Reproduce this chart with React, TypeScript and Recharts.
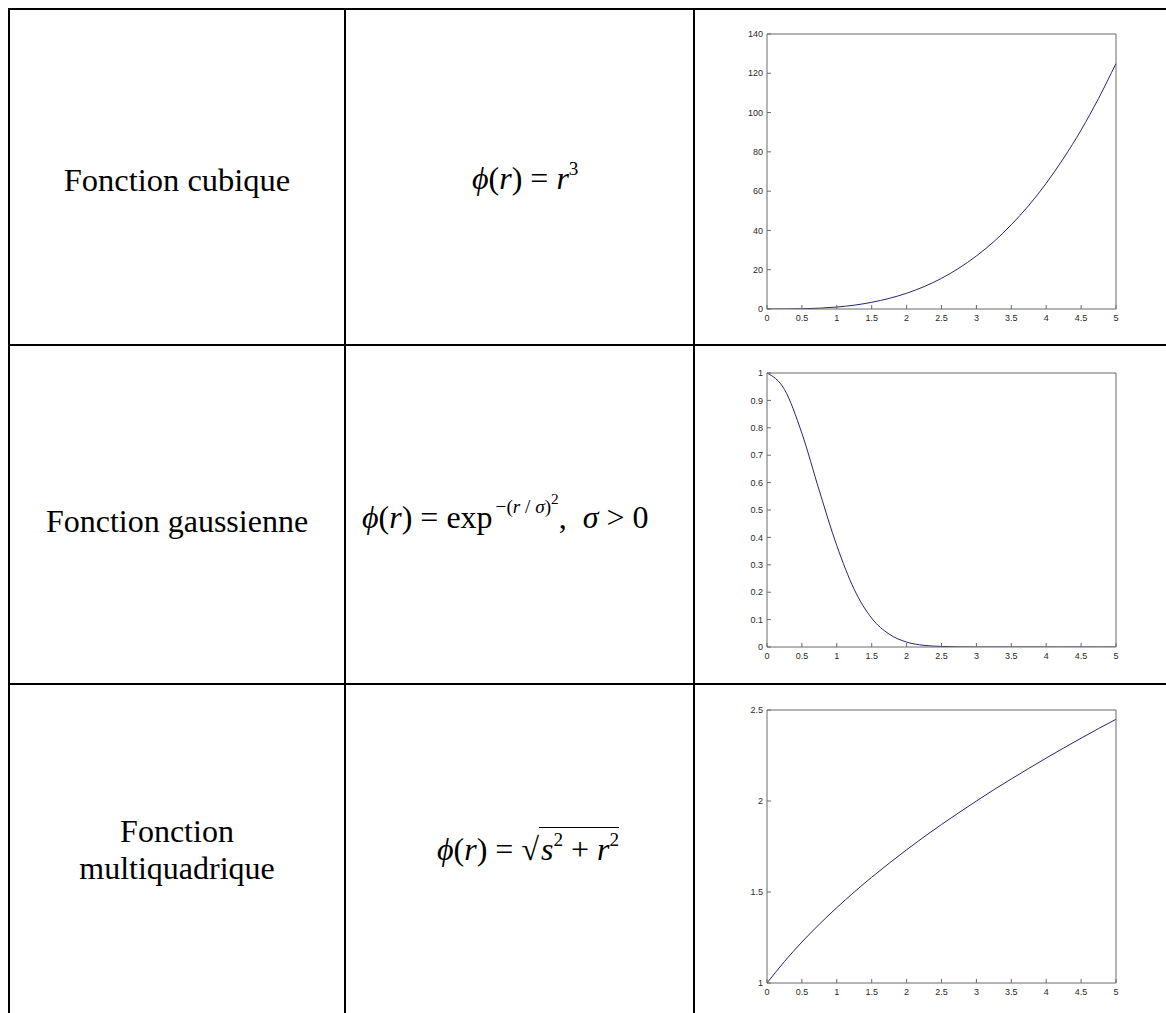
import React from "react";
import { Line, LineChart, XAxis, YAxis } from "recharts";

// sample points along r (0..5)
const rValues = [0, 0.25, 0.5, 0.75, 1, 1.25, 1.5, 1.75, 2, 2.25, 2.5, 2.75, 3, 3.25, 3.5, 3.75, 4, 4.25, 4.5, 4.75, 5];

// values
const cubicValues = [0, 0.02, 0.13, 0.42, 1, 1.95, 3.4, 5.4, 8, 11.4, 15.6, 20.8, 27, 34.3, 42.9, 52.7, 64, 76.8, 91.1, 107.2, 125];
const gaussValues = [1, 0.94, 0.78, 0.57, 0.37, 0.21, 0.105, 0.047, 0.018, 0.006, 0.002, 0.0005, 0, 0, 0, 0, 0, 0, 0, 0, 0];
const multiquadValues = [1, 1.118, 1.225, 1.323, 1.414, 1.5, 1.581, 1.658, 1.732, 1.803, 1.871, 1.936, 2, 2.062, 2.121, 2.179, 2.236, 2.291, 2.345, 2.398, 2.449];

const xTicks = [0, 0.5, 1, 1.5, 2, 2.5, 3, 3.5, 4, 4.5, 5];
const cubicTicks = [0, 20, 40, 60, 80, 100, 120, 140];
const gaussTicks = [0, 0.1, 0.2, 0.3, 0.4, 0.5, 0.6, 0.7, 0.8, 0.9, 1];
const multiquadTicks = [1, 1.5, 2, 2.5];

const rowLabels = ["Fonction cubique", "Fonction gaussienne", "Fonction multiquadrique"];

const axisColor = "#6a6a6a";
const lineColor = "#26266e";
const tickFont = { fontSize: 9, fill: "#2a2a2a", fontFamily: "'Liberation Sans', Arial, sans-serif" };
const serif = "'Liberation Serif', 'Times New Roman', serif";

function Plot({ top, plotH, values, ticks }: { top: number; plotH: number; values: number[]; ticks: number[] }) {
  const data = rValues.map((r, i) => ({ r, v: values[i] }));
  const domain = [ticks[0], ticks[ticks.length - 1]];
  return (
    <div style={{ position: "absolute", left: 695, top: top - 20 }}>
      <LineChart width={471} height={plotH + 50} data={data} margin={{ top: 10, right: 40, bottom: 0, left: 32 }}>
        <XAxis
          xAxisId="b"
          dataKey="r"
          type="number"
          domain={[0, 5]}
          ticks={xTicks}
          height={30}
          stroke={axisColor}
          tickSize={-4}
          tickMargin={10}
          tick={tickFont}
          allowDataOverflow
        />
        <XAxis
          xAxisId="t"
          orientation="top"
          dataKey="r"
          type="number"
          domain={[0, 5]}
          ticks={xTicks}
          height={10}
          stroke={axisColor}
          tickSize={-4}
          tick={false}
          allowDataOverflow
        />
        <YAxis
          yAxisId="l"
          type="number"
          domain={domain}
          ticks={ticks}
          width={40}
          stroke={axisColor}
          tickSize={-4}
          tickMargin={8}
          tick={tickFont}
          allowDataOverflow
        />
        <YAxis
          yAxisId="r"
          orientation="right"
          type="number"
          domain={domain}
          ticks={ticks}
          width={10}
          stroke={axisColor}
          tickSize={-4}
          tick={false}
          allowDataOverflow
        />
        <Line
          xAxisId="b"
          yAxisId="l"
          type="monotone"
          dataKey="v"
          stroke={lineColor}
          strokeWidth={1}
          dot={false}
          isAnimationActive={false}
        />
      </LineChart>
    </div>
  );
}

const rule = (left: number, top: number, width: number, height: number) => (
  <div style={{ position: "absolute", left, top, width, height, background: "#000" }} />
);

const sup: React.CSSProperties = { fontSize: "0.6em", verticalAlign: "0.75em", lineHeight: 0 };
const op: React.CSSProperties = { margin: "0 8px" };

export default function App() {
  return (
    <div style={{ position: "fixed", left: 0, top: 0, width: 1166, height: 1013, overflow: "hidden", background: "#fff", fontFamily: serif, color: "#000" }}>
      {rule(8, 8, 1158, 2)}
      {rule(8, 8, 2, 1005)}
      {rule(344, 8, 2, 1005)}
      {rule(693, 8, 2, 1005)}
      {rule(8, 344, 1158, 2)}
      {rule(8, 683, 1158, 2)}

      <div style={{ position: "absolute", left: 10, width: 334, top: 164, fontSize: 32.5, lineHeight: "32px", textAlign: "center" }}>
        {rowLabels[0]}
      </div>
      <div style={{ position: "absolute", left: 10, width: 334, top: 505, fontSize: 32, lineHeight: "32px", textAlign: "center" }}>
        {rowLabels[1]}
      </div>
      <div style={{ position: "absolute", left: 10, width: 334, top: 813, fontSize: 32, lineHeight: "36.8px", textAlign: "center" }}>
        Fonction
        <br />
        multiquadrique
      </div>

      <div style={{ position: "absolute", left: 472, top: 162, fontSize: 32, lineHeight: "32px", whiteSpace: "nowrap" }}>
        <i>ϕ</i>(<i>r</i>)<span style={op}>=</span><i>r</i>
        <span style={sup}>3</span>
      </div>
      <div style={{ position: "absolute", left: 362, top: 499, fontSize: 32, lineHeight: "32px", whiteSpace: "nowrap" }}>
        <i>ϕ</i>(<i>r</i>)<span style={op}>=</span>exp
        <span style={{ ...sup, marginLeft: 3 }}>
          {"\u2212("}
          <i>r</i> / <i>σ</i>)<span style={{ fontSize: "0.8em", verticalAlign: "0.6em" }}>2</span>
        </span>
        ,&nbsp;&nbsp;<i>σ</i>
        <span style={op}>&gt;</span>0
      </div>
      <div style={{ position: "absolute", left: 437, top: 833, fontSize: 32, lineHeight: "32px", whiteSpace: "nowrap" }}>
        <i>ϕ</i>(<i>r</i>)<span style={op}>=</span>√
        <span style={{ borderTop: "1.5px solid #000", paddingTop: 3, paddingLeft: 2 }}>
          <i>s</i>
          <span style={sup}>2</span> + <i>r</i>
          <span style={sup}>2</span>
        </span>
      </div>

      <Plot top={34} plotH={275} values={cubicValues} ticks={cubicTicks} />
      <Plot top={373} plotH={274} values={gaussValues} ticks={gaussTicks} />
      <Plot top={710} plotH={273} values={multiquadValues} ticks={multiquadTicks} />
    </div>
  );
}
